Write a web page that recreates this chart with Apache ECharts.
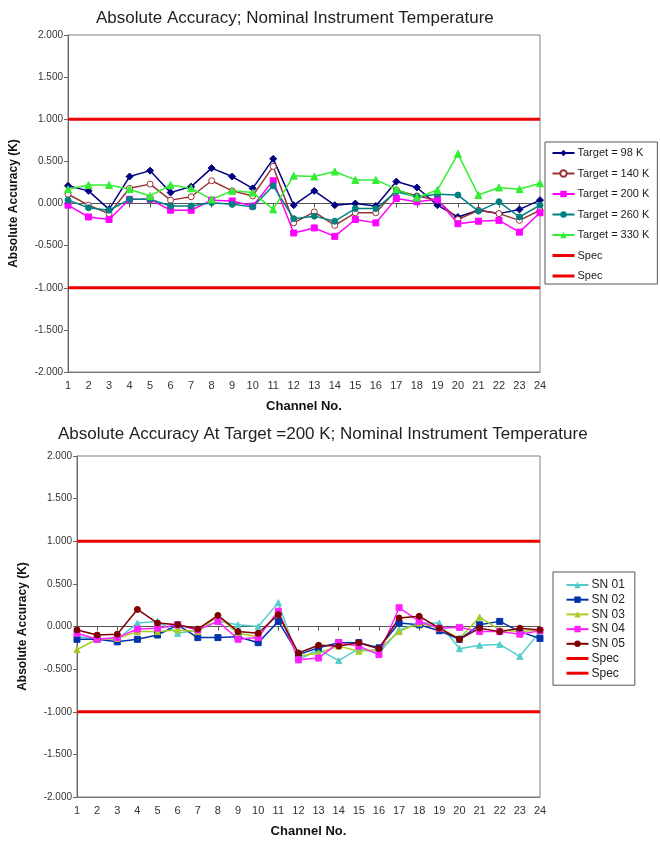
<!DOCTYPE html>
<html>
<head>
<meta charset="utf-8">
<script src="https://cdn.jsdelivr.net/npm/echarts@6/dist/echarts.min.js"></script>
<style>
html,body{margin:0;padding:0;background:#fff;}
#main{width:660px;height:841px;}
</style>
</head>
<body>
<div id="main"></div>
<script>
//channel categories
var channels = ['1','2','3','4','5','6','7','8','9','10','11','12','13','14','15','16','17','18','19','20','21','22','23','24'];

//top chart: targets
var target98 = [0.21,0.15,-0.07,0.32,0.39,0.13,0.20,0.42,0.32,0.18,0.53,-0.02,0.15,-0.02,0.00,-0.03,0.26,0.19,-0.02,-0.16,-0.08,-0.12,-0.07,0.04];
var target140 = [0.11,-0.02,-0.12,0.18,0.23,0.04,0.08,0.27,0.15,0.09,0.44,-0.23,-0.10,-0.26,-0.11,-0.11,0.16,0.09,0.04,-0.19,-0.08,-0.12,-0.20,-0.08];
var target200 = [-0.02,-0.16,-0.19,0.05,0.05,-0.08,-0.08,0.04,0.03,-0.03,0.27,-0.35,-0.29,-0.39,-0.19,-0.23,0.06,0.02,0.05,-0.24,-0.21,-0.20,-0.34,-0.11];
var target260 = [0.04,-0.05,-0.08,0.05,0.05,-0.03,-0.03,0.01,-0.01,-0.04,0.21,-0.18,-0.15,-0.21,-0.06,-0.06,0.14,0.08,0.11,0.10,-0.09,0.02,-0.16,-0.02];
var target330 = [0.17,0.22,0.22,0.17,0.09,0.22,0.18,0.05,0.15,0.13,-0.07,0.33,0.32,0.38,0.28,0.28,0.17,0.07,0.16,0.59,0.10,0.19,0.17,0.24];

//bottom chart: serial numbers at 200 K
var sn01 = [-0.12,-0.14,-0.15,0.04,0.06,-0.08,-0.04,0.06,0.02,0.00,0.28,-0.39,-0.27,-0.40,-0.26,-0.31,-0.04,0.04,0.04,-0.26,-0.22,-0.21,-0.35,-0.06];
var sn02 = [-0.15,-0.15,-0.18,-0.15,-0.10,0.02,-0.13,-0.13,-0.12,-0.19,0.06,-0.33,-0.25,-0.19,-0.19,-0.25,0.04,0.02,-0.05,-0.15,0.02,0.06,-0.06,-0.14];
var sn03 = [-0.27,-0.15,-0.14,-0.06,-0.06,-0.04,-0.06,0.12,-0.08,-0.12,0.18,-0.35,-0.31,-0.23,-0.29,-0.27,-0.06,0.04,-0.02,-0.14,0.11,-0.04,-0.06,-0.04];
var sn04 = [-0.08,-0.15,-0.13,-0.03,-0.02,0.02,-0.04,0.06,-0.15,-0.13,0.18,-0.39,-0.37,-0.19,-0.23,-0.33,0.22,0.06,-0.02,-0.01,-0.06,-0.06,-0.09,-0.05];
var sn05 = [-0.04,-0.10,-0.09,0.20,0.04,0.02,-0.03,0.13,-0.06,-0.08,0.14,-0.31,-0.22,-0.23,-0.19,-0.26,0.10,0.12,-0.02,-0.15,-0.02,-0.06,-0.02,-0.04];

//spec limits
var specUpper = 1.0;
var specLower = -1.0;

var FONT = 'Liberation Sans';

function fill(v) {
	var arr = [];
	for (var i = 0; i < channels.length; i++) {
		arr.push(v);
	}
	return arr;
}

function lineSeries(name, data, color, symbol, grid, opts) {
	var s = {
		name : name,
		type : 'line',
		xAxisIndex : grid * 2,
		yAxisIndex : grid,
		data : data,
		symbol : symbol,
		symbolSize : 6,
		lineStyle : { color : color, width : 1.5 },
		itemStyle : { color : color, borderColor : color },
		emphasis : { disabled : true },
		z : 3
	};
	if (opts) {
		for (var k in opts) s[k] = opts[k];
	}
	return s;
}

function specSeries(name, v, grid) {
	return {
		name : name,
		type : 'line',
		xAxisIndex : grid * 2,
		yAxisIndex : grid,
		data : fill(v),
		symbol : 'none',
		lineStyle : { color : '#ee0000', width : 3 },
		itemStyle : { color : '#ee0000' },
		emphasis : { disabled : true },
		z : 2
	};
}

function labelAxis(grid) {
	return {
		gridIndex : grid,
		type : 'category',
		data : channels,
		boundaryGap : false,
		position : 'bottom',
		axisLine : { onZero : false, lineStyle : { color : '#777' } },
		axisTick : { show : false },
		axisLabel : { margin : 8, fontSize : 11, color : '#333', fontFamily : FONT },
		splitLine : { show : false },
		name : 'Channel No.',
		nameLocation : 'middle',
		nameGap : 28,
		nameTextStyle : { fontWeight : 'bold', fontSize : 13, color : '#111', fontFamily : FONT }
	};
}

function zeroAxis(grid) {
	return {
		gridIndex : grid,
		type : 'category',
		data : channels,
		boundaryGap : false,
		position : 'bottom',
		axisLine : { onZero : true, lineStyle : { color : '#555', width : 1 } },
		axisTick : { show : true, length : 4, lineStyle : { color : '#555' } },
		axisLabel : { show : false },
		splitLine : { show : false }
	};
}

function valueAxis(grid) {
	return {
		gridIndex : grid,
		type : 'value',
		min : -2,
		max : 2,
		interval : 0.5,
		axisLine : { show : true, lineStyle : { color : '#666' } },
		axisTick : { show : true, length : 4, lineStyle : { color : '#666' } },
		axisLabel : {
			margin : 5, fontSize : 10, color : '#333', fontFamily : FONT,
			formatter : function(v) { return v.toFixed(3); }
		},
		splitLine : { show : false },
		name : 'Absolute Accuracy (K)',
		nameLocation : 'middle',
		nameGap : 48,
		nameTextStyle : { fontWeight : 'bold', fontSize : 12, color : '#111', fontFamily : FONT }
	};
}

var SPEC2 = 'Spec\u00a0';

//legend entries for spec lines: thick line only, no marker
function specItems() {
	return [
		{ name : 'Spec', itemStyle : { opacity : 0 }, lineStyle : { width : 3 } },
		{ name : SPEC2, itemStyle : { opacity : 0 }, lineStyle : { width : 3 } }
	];
}

var option = {
	backgroundColor : '#fff',
	animation : false,
	textStyle : { fontFamily : FONT },
	title : [ {
		text : 'Absolute Accuracy; Nominal Instrument Temperature',
		left : 91,
		top : 5,
		textStyle : { fontSize : 17, fontWeight : 'normal', color : '#222', fontFamily : FONT }
	}, {
		text : 'Absolute Accuracy At Target =200 K; Nominal Instrument Temperature',
		left : 53,
		top : 421,
		textStyle : { fontSize : 17, fontWeight : 'normal', color : '#222', fontFamily : FONT }
	} ],
	legend : [ {
		orient : 'vertical',
		left : 545,
		top : 142,
		width : 112,
		padding : [ 5, 8, 2, 6 ],
		borderColor : '#555',
		borderWidth : 1,
		itemWidth : 22,
		itemHeight : 8,
		itemGap : 8.5,
		textStyle : { fontSize : 11, lineHeight : 12, color : '#222', fontFamily : FONT, padding : [ 0, 0, 0, -2 ] },
		data : [ 'Target = 98 K', 'Target = 140 K', 'Target = 200 K', 'Target = 260 K', 'Target = 330 K' ].concat(specItems())
	}, {
		orient : 'vertical',
		left : 553,
		top : 572,
		padding : [ 7, 10, 6, 12 ],
		borderColor : '#555',
		borderWidth : 1,
		itemWidth : 22,
		itemHeight : 8,
		itemGap : 2.7,
		textStyle : { fontSize : 12, lineHeight : 12, color : '#222', fontFamily : FONT, padding : [ 0, 0, 0, -2 ] },
		data : [ 'SN 01', 'SN 02', 'SN 03', 'SN 04', 'SN 05' ].concat(specItems())
	} ],
	grid : [ {
		left : 67, right : 120, top : 35, bottom : 469,
		show : true, borderColor : '#808080', borderWidth : 1
	}, {
		left : 77, right : 120, top : 456, bottom : 44,
		show : true, borderColor : '#808080', borderWidth : 1
	} ],
	xAxis : [ labelAxis(0), zeroAxis(0), labelAxis(1), zeroAxis(1) ],
	yAxis : [ valueAxis(0), valueAxis(1) ],
	series : [
		specSeries('Spec', specUpper, 0),
		specSeries(SPEC2, specLower, 0),
		lineSeries('Target = 98 K', target98, '#000080', 'diamond', 0, { symbolSize : 7 }),
		lineSeries('Target = 140 K', target140, '#993333', 'circle', 0, { itemStyle : { color : '#fff', borderColor : '#993333', borderWidth : 1 } }),
		lineSeries('Target = 200 K', target200, '#ff00ff', 'rect', 0),
		lineSeries('Target = 260 K', target260, '#008080', 'circle', 0),
		lineSeries('Target = 330 K', target330, '#33ee33', 'triangle', 0, { symbolSize : 7 }),

		specSeries('Spec', specUpper, 1),
		specSeries(SPEC2, specLower, 1),
		lineSeries('SN 01', sn01, '#55cccc', 'triangle', 1),
		lineSeries('SN 02', sn02, '#0033aa', 'rect', 1),
		lineSeries('SN 03', sn03, '#a8cc22', 'triangle', 1),
		lineSeries('SN 04', sn04, '#ff22ff', 'rect', 1),
		lineSeries('SN 05', sn05, '#800000', 'circle', 1)
	]
};

var chart = echarts.init(document.getElementById('main'));
chart.setOption(option, true);
</script>
</body>
</html>
